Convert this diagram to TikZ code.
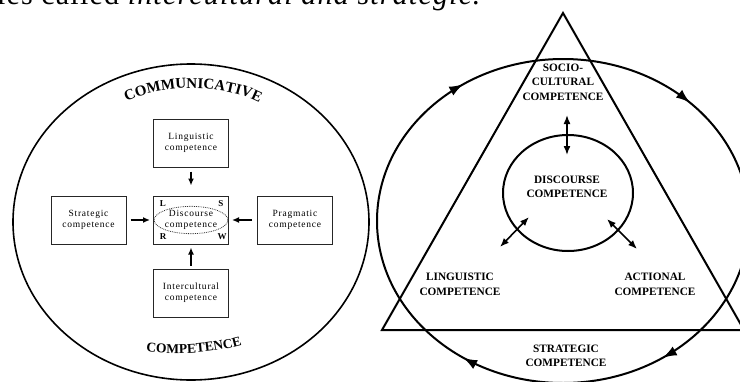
\documentclass[tikz,border=0pt]{standalone}
\usepackage{fontspec}
\setmainfont{Liberation Serif}
\newfontfamily\boxfont[LetterSpace=8]{Liberation Serif}
\newfontfamily\capfont[LetterSpace=4]{Liberation Serif}
\usetikzlibrary{arrows.meta,shapes.geometric,decorations.markings,decorations.text}

\begin{document}
\begin{tikzpicture}[x=1pt,y=-1pt,>={Latex[length=7pt,width=6pt]},thick,
  compbox/.style={draw=black!85,line width=1pt,minimum width=75pt,minimum height=48pt,
    inner sep=0pt,align=center,font=\boxfont\fontsize{9.5}{11}\selectfont},
  corner/.style={inner sep=0pt,font=\fontsize{9}{9}\selectfont\bfseries},
  capslabel/.style={inner sep=0pt,align=center,font=\fontsize{11.3}{14.5}\selectfont\bfseries},
  feed/.style={->,line width=1.3pt},
  link/.style={<->,line width=1.6pt,>={Latex[length=9pt,width=7pt]}},
  roundarrows/.style={postaction={decorate},decoration={markings,
    mark=at position 0.155 with {\arrow{Latex[length=14pt,width=10pt]}},
    mark=at position 0.345 with {\arrow{Latex[length=14pt,width=10pt]}},
    mark=at position 0.655 with {\arrow{Latex[length=14pt,width=10pt]}},
    mark=at position 0.875 with {\arrow{Latex[length=14pt,width=10pt]}}}}]
\useasboundingbox (0,0) rectangle (740,381);
\clip (0,0) rectangle (740,381);
\node[anchor=base east,inner sep=0pt,font=\capfont\fontsize{30}{30}\selectfont] (caption) at (480,4.5)
  {les called \textit{intercultural and strategic}.};

\draw[line width=1.6pt] (191,222) ellipse [x radius=178,y radius=158];
\path[decorate,decoration={text along path,text align=center,
  text={|\fontsize{15}{15}\selectfont\bfseries|COMMUNICATIVE}}]
  (124,103) .. controls (160,83) and (225,83) .. (262,104);
\path[decorate,decoration={text along path,text align=center,
  text={|\fontsize{13.5}{13.5}\selectfont\bfseries|COMPETENCE}}]
  (140,351) .. controls (170,356) and (215,354) .. (248,343);
\node[compbox] (ling) at (191,143) {Linguistic\\competence};
\node[compbox] (disc) at (191,220) {};
\node[compbox] (strat) at (88.5,220) {Strategic\\competence};
\node[compbox] (prag) at (295,220) {Pragmatic\\competence};
\node[compbox] (inter) at (191,293) {Intercultural\\competence};
\node[ellipse,draw=black!80,densely dotted,line width=0.8pt,minimum width=66pt,minimum height=25pt,
  inner sep=0pt,align=center,font=\boxfont\fontsize{9.5}{11}\selectfont] (core) at (191,220)
  {Discourse\\competence};
\node[corner] (cl) at (163,204) {L};
\node[corner] (cs) at (221,204) {S};
\node[corner] (cr) at (163,237) {R};
\node[corner] (cw) at (222,237) {W};
\draw[feed,shorten <=4pt,shorten >=10pt] (ling) -- (disc);
\draw[feed,shorten <=4pt,shorten >=3pt] (strat) -- (disc);
\draw[feed,shorten <=5pt,shorten >=3pt] (prag) -- (disc);
\draw[feed,shorten <=3pt,shorten >=3pt] (inter) -- (disc);

\coordinate (apex) at (563,13);
\coordinate (bl) at (382,330);
\coordinate (br) at (744,330);
\draw[line width=2pt] (apex) -- (bl) -- (br) -- cycle;
\draw[line width=2pt,roundarrows] (749,221) arc[start angle=0,end angle=360,x radius=186,y radius=162];
\node[ellipse,draw,line width=2pt,minimum width=130pt,minimum height=116pt,inner sep=0pt] (ring) at (568,193) {};
\node[capslabel] (ringtext) at (567,187) {DISCOURSE\\COMPETENCE};
\node[capslabel] (socio) at (563,82) {SOCIO-\\CULTURAL\\COMPETENCE};
\node[capslabel] (lingc) at (460,284.5) {LINGUISTIC\\COMPETENCE};
\node[capslabel] (actc) at (655,284.5) {ACTIONAL\\COMPETENCE};
\node[capslabel] (stratc) at (566,356) {STRATEGIC\\COMPETENCE};
\coordinate (s1) at (567,115);
\coordinate (s2) at (567,155);
\coordinate (l1) at (529,217);
\coordinate (l2) at (500,247);
\coordinate (a1) at (607,219);
\coordinate (a2) at (637,249);
\draw[link] (s1) -- (s2);
\draw[link] (l1) -- (l2);
\draw[link] (a1) -- (a2);
\end{tikzpicture}
\end{document}
